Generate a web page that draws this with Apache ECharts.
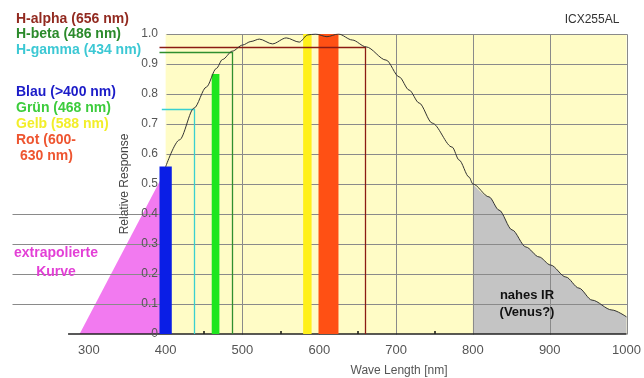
<!DOCTYPE html>
<html lang="de">
<head>
    <meta charset="UTF-8">
    <title>ICX255AL Empfindlichkeit</title>
    <script src="https://cdn.jsdelivr.net/npm/echarts@6/dist/echarts.min.js"></script>
    <style>
        *{margin:0;padding:0;}
        html,body{width:100%;height:100%;background:#fff;}
        #chart{width:644px;height:378px;}
    </style>
</head>
<body>
<div id="chart"></div>
<script>
var curveNm  = [400, 418, 437, 453, 466, 474, 487, 500, 511, 522, 539, 557, 574, 585, 595, 610, 625, 643, 661, 687, 704, 717, 730, 747, 773, 782, 795, 800, 821, 834, 851, 869, 886, 901, 921, 938, 955, 981, 1000];
var curveVal = [0.557, 0.647, 0.753, 0.823, 0.885, 0.915, 0.943, 0.963, 0.975, 0.983, 0.967, 0.987, 0.973, 0.997, 1.0, 0.991, 1.0, 0.98, 0.957, 0.913, 0.857, 0.813, 0.77, 0.703, 0.623, 0.58, 0.523, 0.5, 0.457, 0.413, 0.347, 0.29, 0.257, 0.23, 0.19, 0.153, 0.113, 0.08, 0.057];
// extrapolierter Teil unter 400 nm
var extraNm  = [288, 400];
var extraVal = [0, 0.547];
var irFrom = 800; // ab hier grau ("nahes IR")

// Farbbalken: Blau, Grün, Gelb, Rot
var bandFrom = [392, 460, 579, 599];
var bandTo   = [408, 470, 590, 625];
var bandTop  = [0.558, 0.867, 1.0, 1.0];
var bandColor = ['#0a1ee6', '#1ee61e', '#fff01a', '#ff5014'];

// Wasserstofflinien: H-alpha, H-beta, H-gamma
var hNm    = [660, 487, 437];
var hLevel = [0.956, 0.939, 0.749];
var hFrom  = [392, 392, 395];
var hColor = ['#8b1c14', '#2f8f2f', '#39d0d0'];

var xLabels = [300, 400, 500, 600, 700, 800, 900, 1000];
var xMinor  = [350, 450, 550, 650, 750, 850, 950];
var yLow  = [0.1, 0.2, 0.3, 0.4];           // Linien bis ganz links
var yHigh = [0.5, 0.6, 0.7, 0.8, 0.9, 1.0]; // Linien nur im gelben Feld
var xGrid = [500, 600, 700, 800, 900, 1000];

var FONT = 'Liberation Sans, Arial, sans-serif';

var curve = curveNm.map(function (x, i) { return [x, curveVal[i]]; });
var irPart = curve.filter(function (p) { return p[0] >= irFrom; });
var extra = extraNm.map(function (x, i) { return [x, extraVal[i]]; });

// Gitterlinien als Segmente [x0,y0,x1,y1]
var gridSegs = [];
yLow.forEach(function (y) { gridSegs.push([200, y, 1000, y]); });
yHigh.forEach(function (y) { gridSegs.push([400, y, 1000, y]); });
xGrid.forEach(function (x) { gridSegs.push([x, 0, x, 1]); });

function crisp(v) { return Math.round(v) + 0.5; }

function rectItem(params, api) {
    var p0 = api.coord([api.value(0), api.value(3)]);
    var p1 = api.coord([api.value(1), api.value(2)]);
    return {
        type: 'rect',
        shape: { x: p0[0], y: p0[1], width: p1[0] - p0[0], height: p1[1] - p0[1] },
        style: { fill: api.visual('color') }
    };
}

function segItem(params, api) {
    var a = api.coord([api.value(0), api.value(1)]);
    var b = api.coord([api.value(2), api.value(3)]);
    return {
        type: 'line',
        shape: { x1: crisp(a[0]), y1: crisp(a[1]), x2: crisp(b[0]), y2: crisp(b[1]) },
        style: { stroke: api.visual('color'), lineWidth: 1 }
    };
}

function hLineItem(params, api) {
    var a = api.coord([api.value(0), api.value(2)]);
    var b = api.coord([api.value(1), api.value(2)]);
    var c = api.coord([api.value(1), 0]);
    return {
        type: 'polyline',
        shape: { points: [[a[0], crisp(a[1])], [crisp(b[0]), crisp(b[1])], [crisp(c[0]), c[1]]] },
        style: { stroke: api.visual('color'), lineWidth: 1.3, fill: null }
    };
}

function txt(text, x, y, color, size, weight, align) {
    return {
        type: 'text', x: x, y: y, z: 100,
        style: {
            text: text, fill: color, align: align || 'left', verticalAlign: 'middle',
            font: (weight || 'bold') + ' ' + size + 'px ' + FONT
        }
    };
}

var myChart = echarts.init(document.getElementById('chart'));
var option = {
    animation: false,
    textStyle: { fontFamily: FONT },
    grid: [
        { left: 12, right: 16, top: 34, bottom: 44 },
        { left: 166, right: 16, top: 34, bottom: 44 }
    ],
    xAxis: [
        {
            gridIndex: 0, type: 'value', min: 200, max: 1000,
            axisLine: { show: false },
            splitLine: { show: false },
            axisTick: { show: true, inside: true, length: 3, customValues: xMinor,
                lineStyle: { color: '#111', width: 1.5 } },
            axisLabel: { customValues: xLabels, color: '#555', fontSize: 13, margin: 10,
                formatter: function (v) { return String(v); } }
        },
        { gridIndex: 1, type: 'value', min: 400, max: 1000, show: false }
    ],
    yAxis: [
        { gridIndex: 0, type: 'value', min: 0, max: 1, show: false },
        {
            gridIndex: 1, type: 'value', min: 0, max: 1, interval: 0.1, z: 10,
            axisLine: { show: false }, axisTick: { show: false }, splitLine: { show: false },
            axisLabel: {
                color: '#555', fontSize: 12, margin: 8,
                formatter: function (v) { return v === 0 ? '0' : v.toFixed(1); }
            },
            name: 'Relative Response', nameLocation: 'middle', nameGap: 35,
            nameTextStyle: { color: '#444', fontSize: 12 }
        }
    ],
    graphic: [
        txt('H-alpha (656 nm)', 16, 19, '#922a20', 14),
        txt('H-beta (486 nm)', 16, 34, '#2b8a2b', 14),
        txt('H-gamma (434 nm)', 16, 50, '#3cc8d4', 14),
        txt('Blau (>400 nm)', 16, 92, '#1c1cc8', 14),
        txt('Grün (468 nm)', 16, 108, '#3ccc3c', 14),
        txt('Gelb (588 nm)', 16, 124, '#f2ee2a', 14),
        txt('Rot (600-', 16, 140, '#ee5530', 14),
        txt('630 nm)', 20, 156, '#ee5530', 14),
        txt('extrapolierte', 56, 253, '#e33fd6', 14, 'bold', 'center'),
        txt('Kurve', 56, 272, '#e33fd6', 14, 'bold', 'center'),
        txt('nahes IR', 527, 295, '#111', 13, 'bold', 'center'),
        txt('(Venus?)', 527, 312, '#111', 13, 'bold', 'center'),
        txt('ICX255AL', 592, 20, '#333', 12, 'normal', 'center'),
        txt('Wave Length [nm]', 399, 371, '#555', 12, 'normal', 'center')
    ],
    series: [
        {   // gelbes Messfeld
            type: 'custom', xAxisIndex: 0, yAxisIndex: 0, z: 0, silent: true,
            renderItem: rectItem, encode: { x: [0, 1], y: [2, 3] },
            data: [{ value: [400, 1000, 0, 1], itemStyle: { color: '#fffcc6' } }]
        },
        {   // extrapolierte Kurve
            type: 'line', xAxisIndex: 0, yAxisIndex: 0, z: 1, silent: true,
            data: extra, symbol: 'none',
            lineStyle: { width: 0 }, areaStyle: { color: '#f27af0', opacity: 1 }
        },
        {   // nahes IR
            type: 'line', xAxisIndex: 0, yAxisIndex: 0, z: 1, silent: true,
            data: irPart, symbol: 'none', smooth: 0.3, smoothMonotone: 'x',
            lineStyle: { width: 0 }, areaStyle: { color: '#c4c4c4', opacity: 1 }
        },
        {   // Gitter
            type: 'custom', xAxisIndex: 0, yAxisIndex: 0, z: 2, silent: true,
            renderItem: segItem, encode: { x: [0, 2], y: [1, 3] },
            itemStyle: { color: '#8a8a8a' },
            data: gridSegs
        },
        {   // x-Achsenlinie
            type: 'custom', xAxisIndex: 0, yAxisIndex: 0, z: 2, silent: true,
            renderItem: function (params, api) {
                var a = api.coord([api.value(0), 0]);
                var b = api.coord([api.value(1), 0]);
                return { type: 'line', shape: { x1: a[0], y1: a[1], x2: b[0], y2: b[1] },
                    style: { stroke: '#222', lineWidth: 1.6 } };
            },
            encode: { x: [0, 1] },
            data: [[273, 1000]]
        },
        {   // Farbbalken
            type: 'custom', xAxisIndex: 0, yAxisIndex: 0, z: 3, silent: true,
            renderItem: rectItem, encode: { x: [0, 1], y: [2, 3] },
            data: bandFrom.map(function (x, i) {
                return { value: [x, bandTo[i], 0, bandTop[i]], itemStyle: { color: bandColor[i] } };
            })
        },
        {   // Wasserstofflinien
            type: 'custom', xAxisIndex: 0, yAxisIndex: 0, z: 4, silent: true,
            renderItem: hLineItem, encode: { x: [0, 1], y: 2 },
            data: hNm.map(function (x, i) {
                return { value: [hFrom[i], x, hLevel[i]], itemStyle: { color: hColor[i] } };
            })
        },
        {   // Empfindlichkeitskurve
            type: 'line', xAxisIndex: 0, yAxisIndex: 0, z: 5, silent: true,
            data: curve, symbol: 'none', smooth: 0.3, smoothMonotone: 'x',
            lineStyle: { color: '#333', width: 1 }
        }
    ]
};
myChart.setOption(option);
window.onresize = myChart.resize;
</script>
</body>
</html>
